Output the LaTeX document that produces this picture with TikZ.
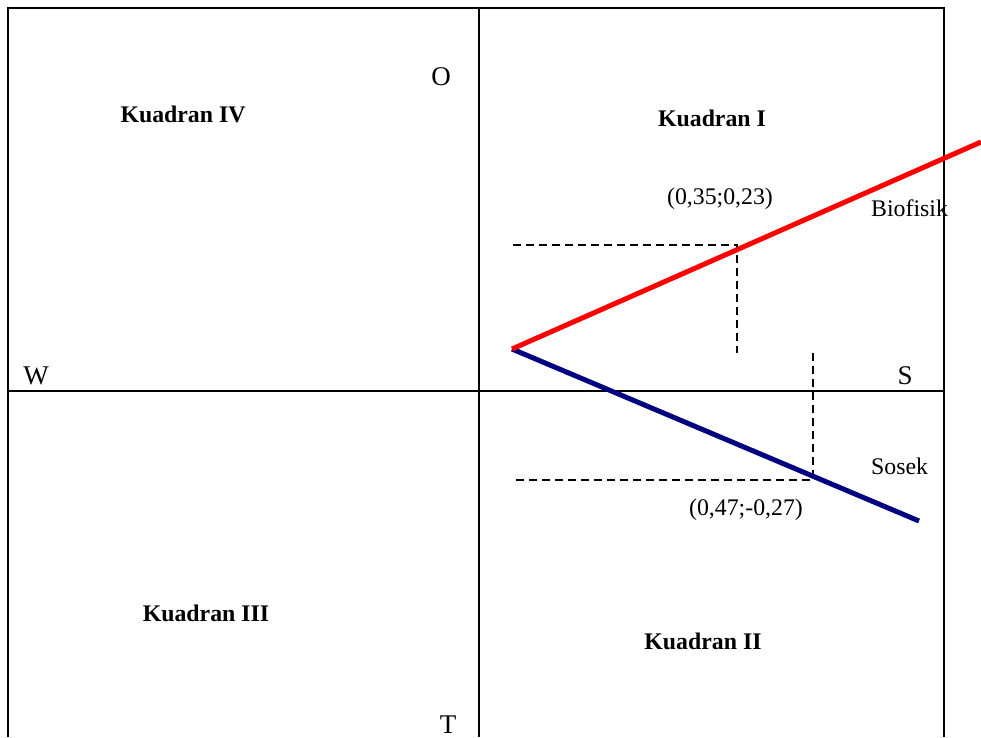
\documentclass[tikz,border=0pt]{standalone}
\usepackage{fontspec}
\setmainfont{Liberation Serif}
\definecolor{biored}{RGB}{255,0,0}
\definecolor{sosblue}{RGB}{0,0,128}
\begin{document}
\begin{tikzpicture}[x=1pt,y=-1pt,
  frame/.style={line width=2.2pt,black},
  guide/.style={line width=1.4pt,black,dash pattern=on 8pt off 5pt},
  quad/.style={font=\fontsize{23.8}{26}\selectfont\bfseries,inner sep=0pt},
  dir/.style={font=\fontsize{27}{29}\selectfont,inner sep=0pt,anchor=base},
  lbl/.style={font=\fontsize{23.8}{26}\selectfont,inner sep=0pt},
  trend/.style={line width=5pt}]
\useasboundingbox (0,0) rectangle (981,737);
% frame
\coordinate (tl) at (8,8);
\coordinate (tr) at (944,8);
\coordinate (bl) at (8,737);
\coordinate (br) at (944,737);
\coordinate (tm) at (479,8);
\coordinate (bm) at (479,737);
\coordinate (ml) at (8,391);
\coordinate (mr) at (944,391);
\draw[frame] (bl) -- (tl) -- (tr) -- (br);
\draw[frame] (tm) -- (bm);
\draw[frame] (ml) -- (mr);
% quadrant labels
\node[quad] (q4) at (183,114) {Kuadran IV};
\node[quad] (q1) at (712,118) {Kuadran I};
\node[quad] (q3) at (206,613) {Kuadran III};
\node[quad] (q2) at (703,641) {Kuadran II};
% direction letters
\node[dir] (o) at (441,85) {O};
\node[dir] (w) at (36,384) {W};
\node[dir] (s) at (905,384) {S};
\node[dir] (t) at (448,733) {T};
% guides
\coordinate (g1a) at (513,245);
\coordinate (g1b) at (737,245);
\coordinate (g1c) at (737,353);
\draw[guide] (g1a) -- (g1b) -- (g1c);
\coordinate (g2a) at (813,353);
\coordinate (g2b) at (813,480);
\coordinate (g2c) at (515,480);
\draw[guide] (g2a) -- (g2b) -- (g2c);
% trend lines
\coordinate (origin) at (512,349);
\coordinate (bioend) at (981,142);
\coordinate (sosend) at (919,521);
\draw[trend,sosblue] (origin) -- (sosend);
\draw[trend,biored] (origin) -- (bioend);
% labels
\node[lbl] (c1) at (720,199) {(0,35;0,23)};
\node[lbl,anchor=west] (bio) at (871,208) {Biofisik};
\node[lbl,anchor=west] (sos) at (871,466) {Sosek};
\node[lbl] (c2) at (746,510) {(0,47;-0,27)};
\end{tikzpicture}
\end{document}
